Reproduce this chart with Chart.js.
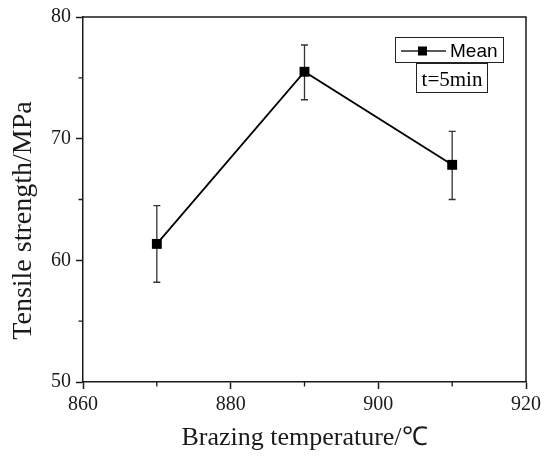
<!DOCTYPE html>
<html>
<head>
<meta charset="utf-8">
<script src="https://cdn.jsdelivr.net/npm/chart.js@4.4.1/dist/chart.umd.min.js"></script>
<style>
  html, body { margin: 0; padding: 0; background: #fff; }
  #wrap { width: 550px; height: 458px; }
</style>
</head>
<body>
<div id="wrap"><canvas id="strengthChart" width="550" height="458"></canvas></div>
<script>
const temperatures = [870, 890, 910];
const meanStrength = [61.35, 75.5, 67.85];
const errorHigh = [64.5, 77.7, 70.6];
const errorLow = [58.2, 73.2, 65.0];
const xMinorTicks = [870, 890, 910];
const yMinorTicks = [55, 65, 75];
const legendLabel = "Mean";
const noteText = "t=5min";

const serif = "'Liberation Serif', 'Times New Roman', serif";
const sans = "'Liberation Sans', Arial, sans-serif";
const ink = "#1a1a1a";

// error bars under the markers
const errorBars = {
  id: "errorBars",
  beforeDatasetsDraw(chart) {
    const { ctx, scales } = chart;
    ctx.save();
    ctx.strokeStyle = "#333";
    ctx.lineWidth = 1.3;
    temperatures.forEach((t, i) => {
      const x = scales.x.getPixelForValue(t);
      const yHi = scales.y.getPixelForValue(errorHigh[i]);
      const yLo = scales.y.getPixelForValue(errorLow[i]);
      ctx.beginPath();
      ctx.moveTo(x, yHi);
      ctx.lineTo(x, yLo);
      ctx.moveTo(x - 3.5, yHi);
      ctx.lineTo(x + 3.5, yHi);
      ctx.moveTo(x - 3.5, yLo);
      ctx.lineTo(x + 3.5, yLo);
      ctx.stroke();
    });
    ctx.restore();
  },
};

// frame, minor ticks, legend box and note
const decorations = {
  id: "decorations",
  afterDraw(chart) {
    const { ctx, chartArea: a, scales } = chart;
    ctx.save();
    ctx.strokeStyle = ink;
    ctx.lineWidth = 1.5;
    ctx.beginPath();
    ctx.moveTo(a.left, a.top);
    ctx.lineTo(a.right, a.top);
    ctx.lineTo(a.right, a.bottom);
    ctx.stroke();

    ctx.lineWidth = 1.3;
    ctx.beginPath();
    xMinorTicks.forEach((v) => {
      const x = scales.x.getPixelForValue(v);
      ctx.moveTo(x, a.bottom);
      ctx.lineTo(x, a.bottom + 4.5);
    });
    yMinorTicks.forEach((v) => {
      const y = scales.y.getPixelForValue(v);
      ctx.moveTo(a.left, y);
      ctx.lineTo(a.left - 4.5, y);
    });
    ctx.stroke();

    // legend
    ctx.lineWidth = 1;
    ctx.strokeStyle = "#222";
    ctx.strokeRect(395.5, 37.5, 108, 25);
    ctx.lineWidth = 1.5;
    ctx.beginPath();
    ctx.moveTo(401, 51);
    ctx.lineTo(446, 51);
    ctx.stroke();
    ctx.fillStyle = "#000";
    ctx.fillRect(418, 46.5, 9, 9);
    ctx.font = "19px " + sans;
    ctx.textBaseline = "alphabetic";
    ctx.textAlign = "left";
    ctx.fillText(legendLabel, 450, 57);

    // note box
    ctx.lineWidth = 1;
    ctx.strokeRect(416.5, 63.5, 71, 29);
    ctx.font = "21px " + serif;
    ctx.textAlign = "center";
    ctx.fillText(noteText, 452, 86);
    ctx.restore();
  },
};

new Chart(document.getElementById("strengthChart"), {
  type: "scatter",
  data: {
    datasets: [
      {
        label: legendLabel,
        data: temperatures.map((t, i) => ({ x: t, y: meanStrength[i] })),
        showLine: true,
        borderColor: "#000",
        borderWidth: 1.8,
        pointStyle: "rect",
        pointRadius: 7,
        pointBackgroundColor: "#000",
        pointBorderColor: "#000",
        pointBorderWidth: 0,
        tension: 0,
      },
    ],
  },
  options: {
    responsive: false,
    animation: false,
    layout: { padding: { top: 16, right: 24, left: 0, bottom: 0 } },
    plugins: {
      legend: { display: false },
      tooltip: { enabled: false },
    },
    scales: {
      x: {
        type: "linear",
        min: 860,
        max: 920,
        afterFit: (scale) => { scale.height = 76; },
        ticks: {
          stepSize: 20,
          color: ink,
          padding: 4,
          font: { family: serif, size: 20 },
        },
        grid: {
          drawOnChartArea: false,
          tickLength: 7,
          tickWidth: 1.5,
          tickColor: ink,
        },
        border: { color: ink, width: 1.5 },
        title: {
          display: true,
          text: "Brazing temperature/℃",
          color: ink,
          font: { family: serif, size: 26 },
          padding: { top: 0, bottom: 4 },
        },
      },
      y: {
        min: 50,
        max: 80,
        afterFit: (scale) => { scale.width = 83; },
        ticks: {
          stepSize: 10,
          color: ink,
          padding: 5,
          font: { family: serif, size: 20 },
        },
        grid: {
          drawOnChartArea: false,
          tickLength: 7,
          tickWidth: 1.5,
          tickColor: ink,
        },
        border: { color: ink, width: 1.5 },
        title: {
          display: true,
          text: "Tensile strength/MPa      ",
          color: ink,
          font: { family: serif, size: 28 },
          padding: { top: 7, bottom: 0 },
        },
      },
    },
  },
  plugins: [errorBars, decorations],
});
</script>
</body>
</html>
